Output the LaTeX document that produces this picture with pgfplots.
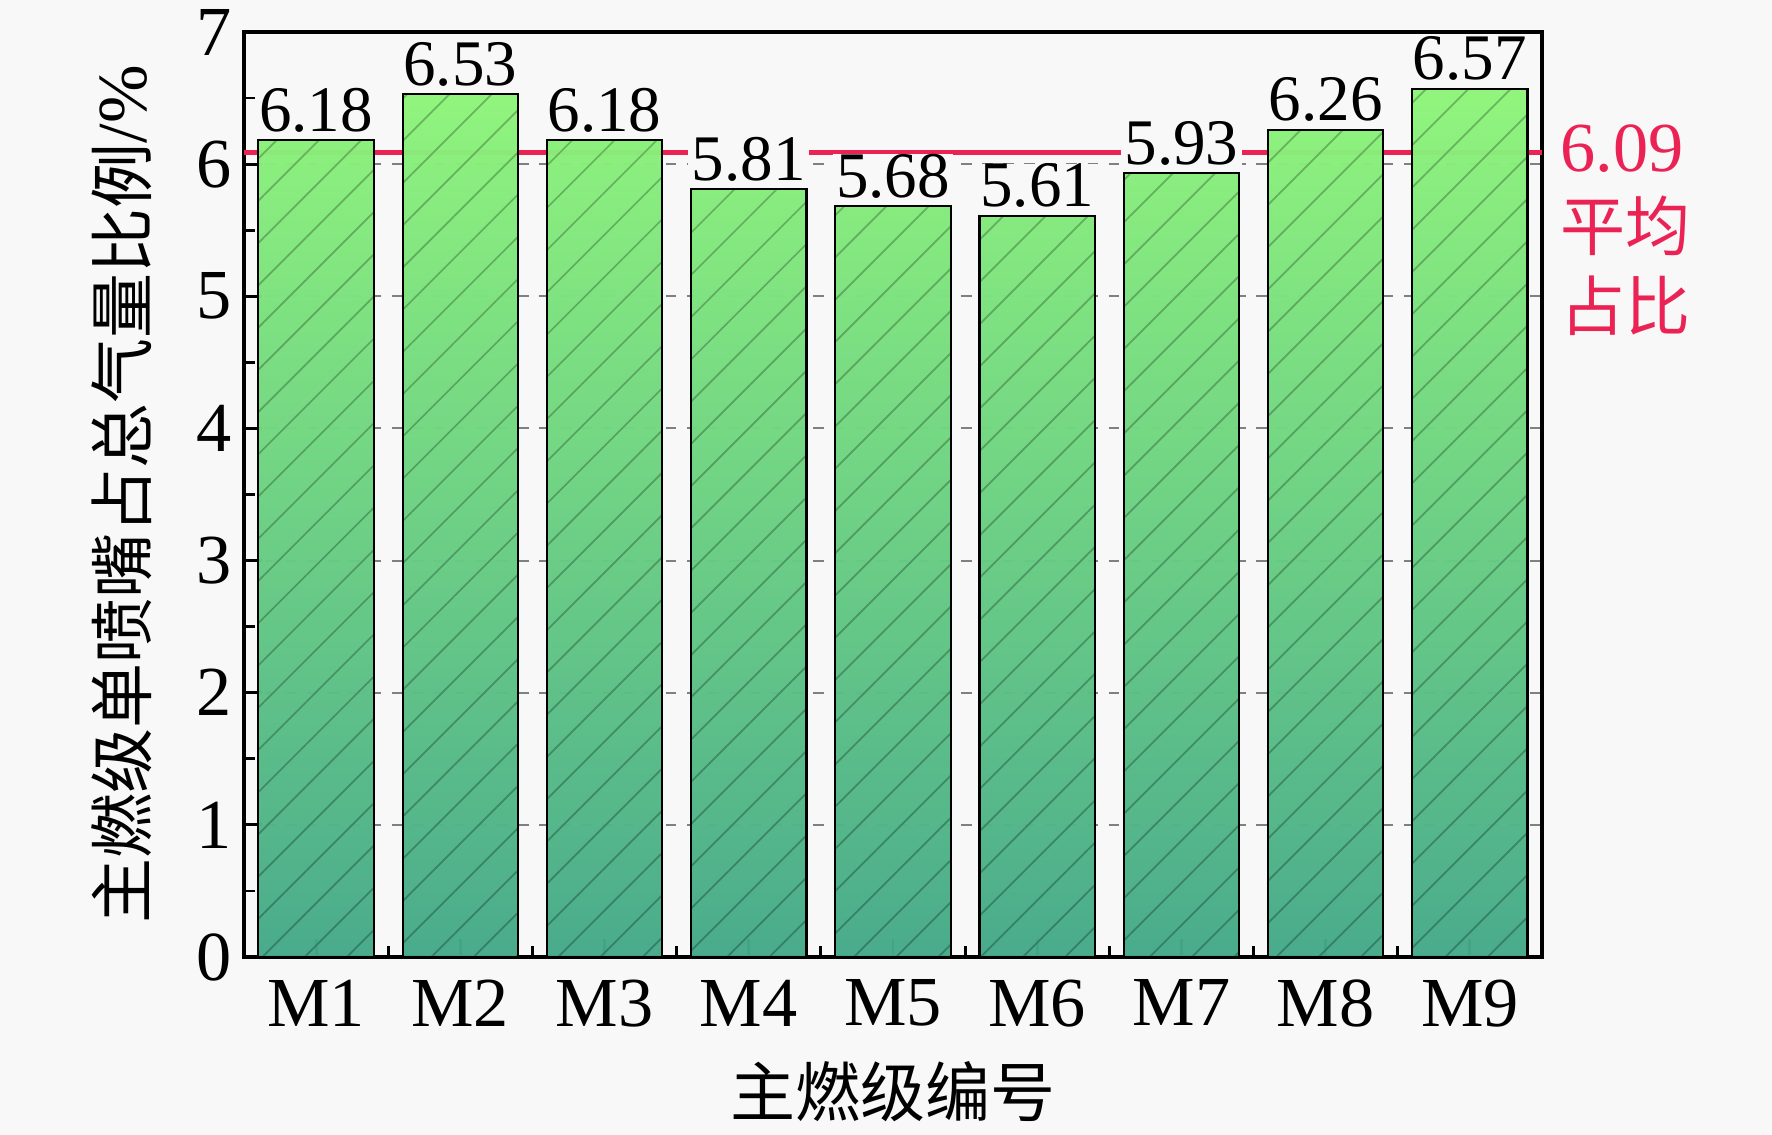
\documentclass[border=0pt]{standalone}
\usepackage{fontspec}
\setmainfont{Liberation Serif}
\newfontfamily\cjk{Noto Sans CJK SC}
\usepackage{pgfplots}
\pgfplotsset{compat=1.18}
\usetikzlibrary{patterns.meta}

\definecolor{bg}{HTML}{F8F8F8}
\definecolor{avgred}{RGB}{235,35,85}
\definecolor{bartop}{HTML}{8EF57A}
\definecolor{barbot}{HTML}{45A98A}
\newcommand\numfont{\fontsize{20}{24}\selectfont}
\newcommand\lblfont{\fontsize{18.5}{22}\selectfont}
\newcommand\hanfont{\fontsize{18.5}{22}\selectfont\cjk}

\begin{document}
\begin{tikzpicture}
\fill[bg] (-2.44,-1.78) rectangle (15.28,9.57);
\begin{axis}[
    at={(0,0)}, anchor=south west,
    scale only axis, width=12.98cm, height=9.25cm,
    xmin=0.5, xmax=9.5, ymin=0, ymax=7,
    xtick={1,...,9},
    xticklabels={M1,M2,M3,M4,M5,M6,M7,M8,M9},
    ytick={0,...,7},
    minor x tick num=1, minor y tick num=1,
    tick align=inside, xtick pos=bottom, ytick pos=left,
    major tick length=5pt, minor tick length=3pt,
    tick style={black, line width=0.8pt},
    axis line style={line width=0.9pt},
    ymajorgrids,
    major grid style={gray, dash pattern=on 3pt off 3pt, line width=0.6pt},
    tick label style={font=\numfont},
    xticklabel style={yshift=-3pt},
    /pgf/number format/assume math mode=true,
    xlabel={\hanfont 主燃级编号},
    ylabel={{\hanfont 主燃级单喷嘴占总气量比例}{\fontsize{20}{24}\selectfont /\%}},
    xlabel style={at={(axis description cs:0.5,-0.146)}, anchor=center},
    ylabel style={at={(axis description cs:-0.094,0.5)}, anchor=center},
    clip=false,
]
% average line, drawn under the bars
\addplot[avgred, line width=1.3pt, forget plot] coordinates {(0.5,6.09) (9.5,6.09)};

\addplot[ybar, bar width=0.8, draw=black, line width=0.6pt,
    top color=bartop, bottom color=barbot, fill opacity=0.88,
    postaction={pattern={Lines[angle=45,distance=8.5pt,line width=0.5pt]}, pattern color=black, fill opacity=0.75},
    nodes near coords={\pgfmathprintnumber[fixed,fixed zerofill,precision=2]{\pgfplotspointmeta}},
    every node near coord/.append style={font=\lblfont, text=black, fill=bg, draw=none,
        fill opacity=1, text opacity=1, inner xsep=1pt, inner ysep=0pt, yshift=2pt, anchor=south}]
    coordinates {(1,6.18) (2,6.53) (3,6.18) (4,5.81) (5,5.68) (6,5.61) (7,5.93) (8,6.26) (9,6.57)};

\node[anchor=west, inner sep=0pt, xshift=0.18cm, text=avgred, font=\numfont] at (axis cs:9.5,6.12) {6.09};
\node[anchor=west, inner sep=0pt, xshift=0.18cm, text=avgred, font=\hanfont] at (axis cs:9.5,5.53) {平均};
\node[anchor=west, inner sep=0pt, xshift=0.18cm, text=avgred, font=\hanfont] at (axis cs:9.5,4.93) {占比};
\end{axis}
% frame top edge again, over the label backgrounds
\draw[line width=0.9pt] (0,9.25) -- (12.98,9.25);
\pgfresetboundingbox
\useasboundingbox (-2.44,-1.78) rectangle (15.28,9.57);
\end{tikzpicture}
\end{document}
